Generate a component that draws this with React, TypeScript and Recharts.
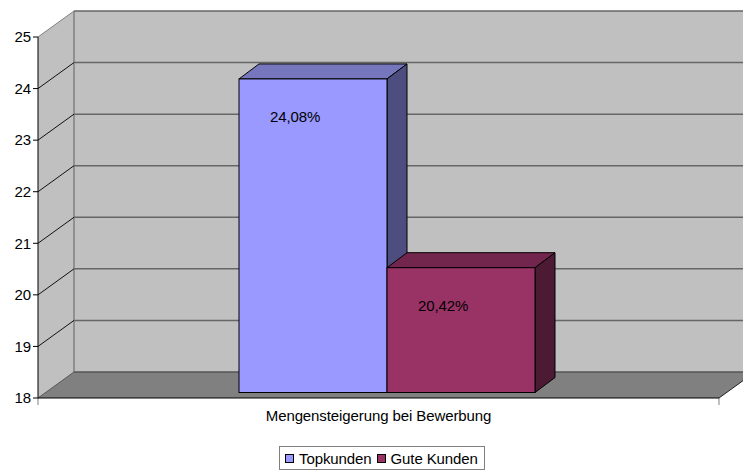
import { BarChart, Bar, XAxis, YAxis, CartesianGrid, Legend, LabelList, ReferenceArea } from "recharts";

const categories = ["Mengensteigerung bei Bewerbung"];
const topkunden = [24.08];
const guteKunden = [20.42];
const yTicks = [18, 19, 20, 21, 22, 23, 24, 25];

const data = categories.map((name, i) => ({ name, topkunden: topkunden[i], guteKunden: guteKunden[i] }));

const FONT = '"Liberation Sans", Arial, sans-serif';
const TEXT = { fontFamily: FONT, fontSize: 15, letterSpacing: -0.1, fill: "#000" };
const DX = 36;
const DY = 26;

// back wall, side wall and floor of the 3d box, sized from the plot area
function Box({ x, y, width, height }: any) {
  const r = x + width;
  const b = y + height;
  return (
    <g>
      <rect x={x + DX} y={y - DY} width={width} height={height} fill="#C0C0C0" />
      <polygon points={`${x},${y} ${x + DX},${y - DY} ${x + DX},${b - DY} ${x},${b}`} fill="#C0C0C0" />
      <polygon points={`${x},${b} ${r},${b} ${r + DX},${b - DY} ${x + DX},${b - DY}`} fill="#808080" />
      <line x1={x + DX} y1={y - DY} x2={x + DX} y2={b - DY} stroke="#808080" strokeWidth={1.5} />
      <line x1={r} y1={b} x2={r + DX} y2={b - DY} stroke="#222" />
      <line x1={x} y1={b} x2={x} y2={b + 7} stroke="#808080" />
      <line x1={r} y1={b} x2={r} y2={b + 7} stroke="#808080" />
    </g>
  );
}

function GridLine({ x1, y1, x2, index }: any) {
  const top = index === yTicks.length - 1;
  const floor = index === 0;
  return (
    <g>
      <line x1={x1} y1={y1} x2={x1 + DX} y2={y1 - DY} stroke={top ? "#808080" : floor ? "#555" : "#111"} />
      <line x1={x1 + DX} y1={y1 - DY} x2={x2 + DX} y2={y1 - DY} stroke={floor ? "#555" : "#666"} strokeWidth={1.5} />
    </g>
  );
}

function Bar3D({ x, y, width, height, fill, top, side }: any) {
  const l = x + 8;
  const t = y - 5.5;
  const r = l + width;
  const b = t + height;
  return (
    <g stroke="#000" strokeWidth={1}>
      <polygon points={`${l},${t} ${l + 20},${t - 15} ${r + 20},${t - 15} ${r},${t}`} fill={top} />
      <polygon points={`${r},${t} ${r + 20},${t - 15} ${r + 20},${b - 15} ${r},${b}`} fill={side} />
      <rect x={l} y={t} width={width} height={height} fill={fill} />
    </g>
  );
}

function PercentLabel({ x, y, value }: any) {
  return (
    <text x={x + 39} y={y + 38} {...TEXT}>
      {String(value).replace(".", ",")}%
    </text>
  );
}

function LegendBox({ payload }: any) {
  return (
    <div style={{ display: "flex", alignItems: "center", height: 23, paddingLeft: 5, fontFamily: FONT, fontSize: 15, letterSpacing: -0.1, color: "#000" }}>
      {(payload || []).map((p: any) => (
        <span key={p.value} style={{ display: "flex", alignItems: "center", marginRight: 5 }}>
          <span style={{ width: 7, height: 7, background: p.color, border: "1px solid #000", marginRight: 5 }} />
          {p.value}
        </span>
      ))}
    </div>
  );
}

export default function App() {
  return (
    <div style={{ position: "absolute", left: 0, top: 0 }}>
      <BarChart
        width={743}
        height={470}
        data={data}
        margin={{ top: 37, right: 24, bottom: 18, left: 0 }}
        barSize={148}
        barGap={0}
      >
        <ReferenceArea y1={18} y2={25} shape={Box} zIndex={-200} />
        <CartesianGrid vertical={false} horizontal={GridLine} />
        <XAxis
          dataKey="name"
          axisLine={{ stroke: "#000" }}
          tickLine={false}
          tick={TEXT}
          tickMargin={6}
          height={30}
        />
        <YAxis
          domain={[18, 25]}
          ticks={yTicks}
          width={38}
          interval={0}
          axisLine={{ stroke: "#000" }}
          tickLine={{ stroke: "#000" }}
          tickSize={5}
          tickMargin={2}
          tick={TEXT}
        />
        <Legend
          content={LegendBox}
          itemSorter={null}
          wrapperStyle={{ left: 279, top: 446, bottom: "auto", width: 206, height: 24, border: "1px solid #808080", boxSizing: "border-box" }}
        />
        <Bar
          dataKey="topkunden"
          name="Topkunden"
          fill="#9999FF"
          isAnimationActive={false}
          shape={(p: any) => <Bar3D {...p} top="#7676BC" side="#4D4D80" />}
        >
          <LabelList dataKey="topkunden" content={PercentLabel} />
        </Bar>
        <Bar
          dataKey="guteKunden"
          name="Gute Kunden"
          fill="#993366"
          isAnimationActive={false}
          shape={(p: any) => <Bar3D {...p} top="#73264D" side="#4D1A33" />}
        >
          <LabelList dataKey="guteKunden" content={PercentLabel} />
        </Bar>
      </BarChart>
    </div>
  );
}
